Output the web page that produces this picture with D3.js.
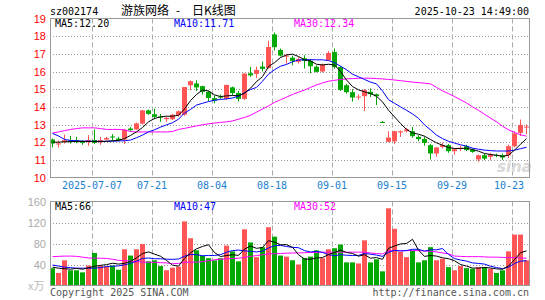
<!DOCTYPE html>
<html>
<head>
<meta charset="utf-8">
<style>
body { margin: 0; background: #fff; }
.chart text { font-family: "DejaVu Sans Mono", "Liberation Mono", monospace; font-size: 10px; }
.chart .axisLabel { font-family: "Liberation Sans", Arial, sans-serif; font-size: 11px; }
.chart .title { font-family: "Noto Sans CJK SC", sans-serif; font-size: 12px; }
</style>
</head>
<body>
<div class="chart"></div>

<script src="https://d3js.org/d3.v7.min.js"></script>
<script>
  // 日K 資料 (2025-06-26 ~ 2025-10-23)
  const open = [12.15, 11.90, 12.01, 12.10, 12.12, 12.07, 12.00, 12.12, 12.00, 12.15,
                12.32, 12.20, 12.15, 12.77, 12.72, 13.05, 13.80, 13.58, 13.45, 13.30,
                13.30, 13.52, 13.55, 15.22, 15.32, 15.17, 14.85, 14.49, 14.58, 14.45,
                15.10, 14.78, 14.45, 15.90, 15.86, 16.28, 16.20, 18.10, 17.22, 16.85,
                16.78, 16.55, 16.75, 16.60, 16.27, 16.00, 16.64, 17.10, 16.25, 15.22,
                14.83, 14.55, 14.60, 14.85, 14.71, 13.14, 12.02, 12.05, 12.55, 12.62,
                12.62, 12.30, 12.18, 11.83, 11.36, 11.73, 11.83, 11.49, 11.65, 11.77,
                11.58, 11.02, 11.26, 11.17, 11.28, 11.26, 11.26, 11.77, 12.52, 12.84]
  const high = [12.21, 12.10, 12.43, 12.35, 12.30, 12.10, 12.40, 12.72, 12.30, 12.30,
                12.45, 12.30, 12.75, 12.85, 13.10, 13.82, 13.85, 13.90, 13.60, 13.45,
                13.60, 13.80, 15.12, 15.50, 15.50, 15.20, 14.90, 14.65, 14.70, 15.25,
                15.15, 14.90, 15.90, 16.26, 16.28, 16.56, 17.75, 18.21, 17.30, 17.00,
                16.90, 16.80, 16.92, 16.70, 16.35, 16.45, 17.15, 17.30, 16.30, 15.30,
                15.00, 14.70, 15.00, 15.04, 14.75, 13.20, 12.62, 12.65, 12.66, 12.80,
                12.86, 12.40, 12.30, 11.90, 11.72, 11.97, 11.90, 11.65, 11.80, 11.85,
                11.65, 11.30, 11.35, 11.40, 11.35, 11.35, 11.85, 12.62, 13.28, 13.00]
  const low  = [11.70, 11.70, 11.92, 11.92, 11.95, 11.85, 11.80, 11.90, 11.85, 12.10,
                12.10, 12.05, 11.90, 12.60, 12.70, 13.00, 13.55, 13.30, 13.15, 13.15,
                13.25, 13.45, 13.50, 14.95, 14.90, 14.70, 14.30, 14.20, 14.45, 14.40,
                14.65, 14.30, 14.40, 15.70, 15.62, 16.00, 16.15, 17.20, 16.85, 16.45,
                16.35, 16.45, 16.17, 15.90, 15.95, 15.95, 16.60, 16.15, 14.90, 14.75,
                14.30, 14.40, 13.77, 14.56, 14.10, 13.10, 12.00, 11.90, 12.30, 12.55,
                12.25, 12.05, 11.80, 11.02, 11.17, 11.65, 11.40, 11.30, 11.50, 11.50,
                11.40, 10.90, 10.98, 10.98, 11.15, 11.00, 11.10, 11.70, 12.35, 12.45]
  const close = [11.92, 11.93, 12.11, 12.03, 12.00, 11.96, 12.12, 11.96, 12.12, 12.24,
                 12.30, 12.12, 12.70, 12.68, 13.06, 13.80, 13.60, 13.43, 13.40, 13.38,
                 13.55, 13.75, 15.12, 15.45, 15.10, 14.85, 14.50, 14.35, 14.55, 15.24,
                 14.78, 14.45, 15.88, 15.78, 16.09, 16.15, 17.39, 17.38, 16.90, 16.90,
                 16.60, 16.70, 16.60, 16.30, 15.98, 16.40, 17.05, 16.25, 14.96, 14.83,
                 14.53, 14.58, 14.95, 14.72, 14.60, 13.13, 12.26, 12.62, 12.62, 12.72,
                 12.34, 12.17, 11.96, 11.36, 11.70, 11.83, 11.49, 11.60, 11.68, 11.55,
                 11.45, 11.26, 11.07, 11.32, 11.24, 11.13, 11.77, 12.49, 12.98, 12.88]
  // 成交量 (萬)
  const volume = [33, 24, 48, 29, 29, 25, 38, 62, 38, 36,
                  38, 30, 69, 57, 69, 79, 46, 48, 37, 29,
                  34, 36, 122, 90, 67, 57, 52, 48, 52, 76,
                  65, 46, 107, 82, 54, 73, 111, 93, 57, 55,
                  48, 40, 52, 55, 67, 52, 69, 71, 78, 44,
                  44, 42, 86, 44, 50, 27, 147, 108, 64, 54,
                  67, 44, 48, 73, 48, 51, 35, 29, 37, 33,
                  32, 35, 35, 32, 24, 29, 65, 97, 97, 48]

  // 均線
  const ma5 = [12.00, 12.00, 12.02, 12.03, 12.04, 12.04, 12.04, 12.03, 12.03, 12.05,
               12.08, 12.10, 12.20, 12.38, 12.58, 12.83, 13.15, 13.34, 13.43, 13.47,
               13.47, 13.52, 13.88, 14.35, 14.70, 14.95, 14.90, 14.68, 14.58, 14.62,
               14.64, 14.63, 14.77, 15.05, 15.43, 15.71, 16.28, 16.50, 16.79, 16.94,
               16.98, 16.85, 16.66, 16.60, 16.41, 16.37, 16.41, 16.37, 16.00, 15.52,
               15.15, 14.96, 14.85, 14.75, 14.60, 14.28, 13.81, 13.43, 13.06, 12.72,
               12.52, 12.45, 12.34, 12.15, 11.96, 11.83, 11.70, 11.64, 11.64, 11.66,
               11.58, 11.49, 11.36, 11.30, 11.26, 11.20, 11.26, 11.55, 11.88, 12.20]
  const ma10 = [12.49, 12.35, 12.15, 12.10, 12.08, 12.06, 12.06, 12.05, 12.05, 12.05,
                12.05, 12.07, 12.08, 12.12, 12.25, 12.40, 12.58, 12.70, 12.85, 12.98,
                13.10, 13.30, 13.65, 13.85, 14.10, 14.20, 14.30, 14.37, 14.42, 14.45,
                14.50, 14.60, 14.80, 14.98, 15.10, 15.45, 15.85, 16.10, 16.30, 16.40,
                16.55, 16.65, 16.66, 16.67, 16.66, 16.66, 16.62, 16.50, 16.30, 16.10,
                15.85, 15.70, 15.55, 15.40, 15.30, 14.90, 14.40, 14.20, 14.00, 13.80,
                13.60, 13.35, 12.98, 12.70, 12.40, 12.20, 12.05, 11.95, 11.85, 11.78,
                11.66, 11.60, 11.55, 11.52, 11.50, 11.50, 11.50, 11.55, 11.63, 11.71]
  const ma30 = [12.52, 12.58, 12.65, 12.72, 12.77, 12.81, 12.81, 12.81, 12.77, 12.72,
                12.72, 12.72, 12.70, 12.60, 12.58, 12.58, 12.58, 12.58, 12.58, 12.58,
                12.60, 12.72, 12.78, 12.85, 12.92, 12.98, 13.04, 13.08, 13.12, 13.15,
                13.20, 13.30, 13.40, 13.52, 13.70, 13.88, 14.05, 14.25, 14.40, 14.55,
                14.70, 14.83, 14.95, 15.10, 15.24, 15.35, 15.45, 15.50, 15.55, 15.58,
                15.60, 15.62, 15.62, 15.62, 15.60, 15.58, 15.55, 15.52, 15.48, 15.44,
                15.40, 15.37, 15.34, 15.30, 15.10, 14.90, 14.75, 14.58, 14.40, 14.22,
                14.00, 13.80, 13.58, 13.36, 13.15, 12.90, 12.70, 12.55, 12.42, 12.34]
  const volMa5 = [35, 33, 32, 31, 32.6, 31, 33.8, 36.6, 38.4, 39.8,
                  42.4, 40.8, 42.2, 46, 52.6, 60.8, 64, 59.8, 55.8, 47.8,
                  38.8, 36.8, 51.6, 62.2, 69.8, 74.4, 77.6, 62.8, 55.2, 57,
                  58.6, 57.4, 69.2, 75.2, 70.8, 72.4, 85.4, 82.6, 77.6, 77.8,
                  72.8, 58.6, 50.4, 50, 52.4, 53.2, 59, 62.8, 67.4, 62.8,
                  61.2, 55.8, 58.8, 52, 53.2, 49.8, 70.8, 75.2, 79.2, 80,
                  88, 67.4, 55.4, 57.2, 56, 52.8, 51, 47.2, 40, 37,
                  33.2, 33.2, 34.4, 33.4, 31.6, 31, 37, 49.4, 62.4, 66]
  const volMa10 = [39, 37, 35, 34, 33, 33, 33, 33, 34, 36.2,
                   36.7, 37.3, 39.4, 42.2, 46.2, 51.6, 52.4, 51, 50.9, 50.2,
                   49.8, 50.4, 55.7, 59, 58.8, 56.6, 57.2, 57.2, 58.7, 63.4,
                   66.5, 67.5, 66, 65.2, 63.9, 65.5, 71.4, 75.9, 76.4, 74.3,
                   72.6, 72, 66.5, 63.8, 65.1, 63, 58.8, 56.6, 58.7, 57.6,
                   57.2, 57.4, 60.8, 59.7, 58, 55.5, 63.3, 67, 65.6, 66.6,
                   68.9, 69.1, 65.3, 68.2, 68, 70.4, 59.2, 51.3, 48.6, 46.5,
                   43, 42.1, 40.8, 36.7, 34.3, 32.1, 35.1, 41.9, 46.5, 47]
  const volMa30 = [55, 55.5, 56, 56, 55.5, 54, 52.5, 52, 52, 51.5,
                   50, 48, 47.5, 46.5, 45.5, 44.5, 44.4, 44, 43.5, 43,
                   41.5, 42, 44.4, 44.4, 44.5, 45.5, 47, 49, 50, 51,
                   51.5, 52, 53.5, 55.5, 57, 58.5, 60.5, 60.5, 61, 61.5,
                   62, 62, 62.5, 63, 63, 63.5, 63.5, 63.5, 63.5, 63.5,
                   63.5, 63.5, 63.5, 62, 61, 60, 66, 66.5, 66.5, 66.5,
                   66.5, 66.5, 66, 65, 64, 62, 60.5, 56, 55.5, 55,
                   55, 55, 54.5, 54, 54, 53.5, 53, 53, 52.5, 52]

  // 刻度
  const dateTickIndex = [7, 17, 27, 37, 47, 57, 67, 77]
  const dateTickLabels = ['2025-07-07', '07-21', '08-04', '08-18', '09-01', '09-15', '09-29', '10-23']
  const priceTicks = [10, 11, 12, 13, 14, 15, 16, 17, 18, 19]
  const volumeTicks = [40, 80, 120, 160]

  const RED = '#ff5555', GREEN = '#00a800'

  drawChart()

  function drawChart() {
    const svg = d3.select('.chart')
                  .append('svg')
                  .attr('width', 545)
                  .attr('height', 300)

    const left = 50, right = 529
    const xScale = d3.scaleBand()
                     .domain(d3.range(close.length))
                     .range([left, right])
                     .paddingInner(1 / 6)
                     .paddingOuter(0)
    const bw = xScale.bandwidth()
    const cx = i => xScale(i) + bw / 2

    const yPrice = d3.scaleLinear().domain([10, 19]).range([177.5, 18.5])
    const yVol = d3.scaleLinear().domain([0, 160]).range([285.5, 201.5])

    // 標題
    svg.append('text').attr('x', 50).attr('y', 15).text('sz002174')
    svg.append('text').attr('class', 'title').attr('x', 121).attr('y', 15).text('游族网络')
    svg.append('text').attr('class', 'title').attr('x', 176).attr('y', 15).text('-')
    svg.append('text').attr('class', 'title').attr('x', 192).attr('y', 15).text('日K线图')
    svg.append('text').attr('x', 529).attr('y', 15).attr('text-anchor', 'end').text('2025-10-23 14:49:00')

    // 格線
    function grid(yScale, ticks, y0, y1) {
      const g = svg.append('g')
      g.selectAll('line.h').data(ticks).join('line')
        .attr('x1', left).attr('x2', right + 0.5)
        .attr('y1', d => Math.round(yScale(d)) + 0.5)
        .attr('y2', d => Math.round(yScale(d)) + 0.5)
        .attr('stroke', '#999').attr('stroke-dasharray', '1,2')
      g.selectAll('line.v').data(dateTickIndex).join('line')
        .attr('x1', d => xScale(d) + 0.5).attr('x2', d => xScale(d) + 0.5)
        .attr('y1', y0).attr('y2', y1)
        .attr('stroke', '#aaa').attr('stroke-dasharray', '5,3')
    }
    grid(yPrice, priceTicks.slice(1, -1), 18.5, 177.5)
    grid(yVol, volumeTicks.slice(0, -1), 201.5, 285.5)

    // 價格軸文字
    svg.append('g').selectAll('text').data(priceTicks).join('text')
       .attr('class', 'axisLabel')
       .attr('x', 46).attr('y', d => yPrice(d) + 4)
       .attr('text-anchor', 'end').attr('fill', '#ff0000')
       .text(d => d)
    svg.append('g').selectAll('text').data(volumeTicks).join('text')
       .attr('class', 'axisLabel')
       .attr('x', 46).attr('y', d => yVol(d) + 4)
       .attr('text-anchor', 'end').attr('fill', '#aaa')
       .text(d => d)
    svg.append('text').attr('class', 'title').attr('x', 28).attr('y', 290)
       .attr('fill', '#bbb').style('font-size', '11px').text('x万')

    // 日期
    svg.append('g').selectAll('text').data(dateTickIndex).join('text')
       .attr('x', (d, i) => Math.min(xScale(d), 509))
       .attr('y', 189).attr('text-anchor', 'middle').attr('fill', '#2080d0')
       .text((d, i) => dateTickLabels[i])

    // sina 水印
    svg.append('text').attr('x', 497).attr('y', 172)
       .style('font-family', '"DejaVu Sans", sans-serif').style('font-size', '15px')
       .style('font-weight', 'bold').style('font-style', 'italic')
       .attr('fill', '#d8d8d8').text('sina')

    // K 線
    const idx = d3.range(close.length)
    const color = i => close[i] >= open[i] ? RED : GREEN
    const k = svg.append('g')
    k.selectAll('line').data(idx).join('line')
     .attr('x1', i => cx(i)).attr('x2', i => cx(i))
     .attr('y1', i => yPrice(high[i])).attr('y2', i => yPrice(low[i]))
     .attr('stroke', color)
    k.selectAll('rect').data(idx).join('rect')
     .attr('x', i => xScale(i))
     .attr('y', i => yPrice(Math.max(open[i], close[i])))
     .attr('width', bw)
     .attr('height', i => Math.max(1, Math.abs(yPrice(open[i]) - yPrice(close[i]))))
     .attr('fill', color)

    // 成交量
    svg.append('g').selectAll('rect').data(idx).join('rect')
       .attr('x', i => xScale(i))
       .attr('y', i => yVol(volume[i]))
       .attr('width', bw)
       .attr('height', i => yVol(0) - yVol(volume[i]))
       .attr('fill', color)

    // 均線
    function maLine(values, yScale, stroke) {
      const line = d3.line().x((d, i) => cx(i)).y(d => yScale(d))
      svg.append('path')
         .attr('fill', 'none').attr('stroke', stroke).attr('stroke-width', 1)
         .attr('d', line(values))
    }
    maLine(ma30, yPrice, '#ff00ff')
    maLine(ma10, yPrice, '#0000ff')
    maLine(ma5, yPrice, '#000')
    maLine(volMa30, yVol, '#ff00ff')
    maLine(volMa10, yVol, '#0000ff')
    maLine(volMa5, yVol, '#000')

    // 外框
    svg.append('rect').attr('x', left + 0.5).attr('y', 18.5)
       .attr('width', right - left).attr('height', 159)
       .attr('fill', 'none').attr('stroke', '#999')
    svg.append('rect').attr('x', left + 0.5).attr('y', 201.5)
       .attr('width', right - left).attr('height', 84)
       .attr('fill', 'none').attr('stroke', '#999')

    // 均線數值
    const maText = [
      { x: 55, y: 27, t: 'MA5:' + ma5[ma5.length - 1].toFixed(2), c: '#000' },
      { x: 174, y: 27, t: 'MA10:' + ma10[ma10.length - 1].toFixed(2), c: '#0000ff' },
      { x: 294, y: 27, t: 'MA30:' + ma30[ma30.length - 1].toFixed(2), c: '#ff00ff' },
      { x: 55, y: 210, t: 'MA5:' + Math.round(volMa5[volMa5.length - 1]), c: '#000' },
      { x: 174, y: 210, t: 'MA10:' + Math.round(volMa10[volMa10.length - 1]), c: '#0000ff' },
      { x: 294, y: 210, t: 'MA30:' + Math.round(volMa30[volMa30.length - 1]), c: '#ff00ff' }
    ]
    svg.append('g').selectAll('text').data(maText).join('text')
       .attr('x', d => d.x).attr('y', d => d.y).attr('fill', d => d.c)
       .text(d => d.t)

    // 版權
    svg.append('text').attr('x', 50).attr('y', 296).attr('fill', '#555').text('Copyright 2025 SINA.COM')
    svg.append('text').attr('x', 529).attr('y', 296).attr('text-anchor', 'end').attr('fill', '#555')
       .text('http://finance.sina.com.cn')
  }
</script>
</body>
</html>
